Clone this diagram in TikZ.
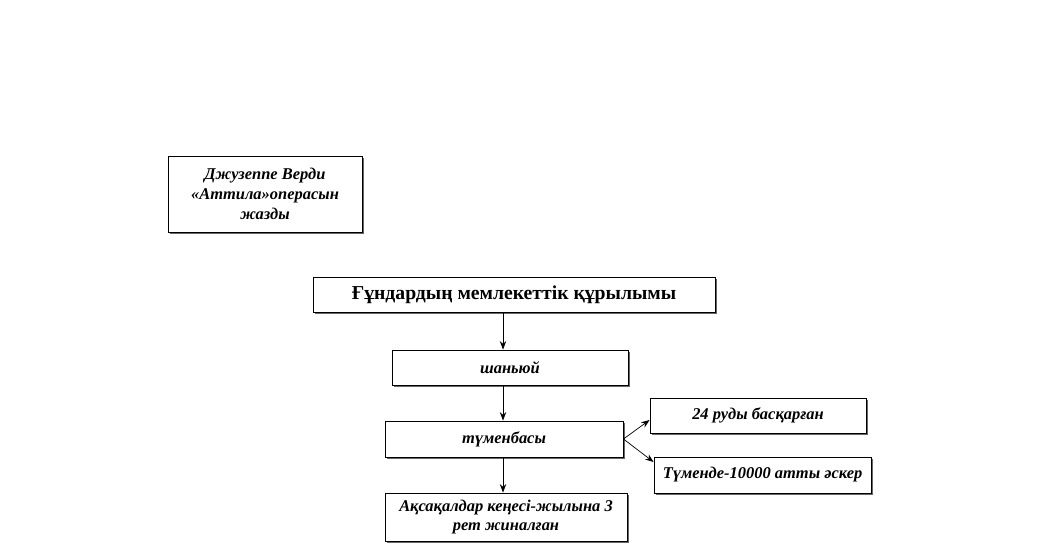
\documentclass[tikz,border=0pt]{standalone}
\usepackage{fontspec}
\setmainfont{Liberation Serif}
\usetikzlibrary{arrows.meta,shadows}

\tikzset{
  box/.style={draw=black, line width=0.6pt, fill=white, align=center,
    inner sep=1pt, drop shadow={shadow xshift=1.2pt, shadow yshift=-1.2pt, fill=black!60, opacity=1},
    font=\bfseries\itshape\fontsize{11.7}{14}\selectfont},
  titlebox/.style={box, font=\bfseries\fontsize{14}{17}\selectfont},
  arr/.style={-{Stealth[length=6pt,width=4.5pt]}, line width=0.5pt}
}

\begin{document}
\begin{tikzpicture}[x=0.025cm, y=-0.025cm]

\useasboundingbox (0,0) rectangle (1049,552);

% left note
\node[box, minimum width=4.85cm, minimum height=1.9cm] (verdi) at (265,194)
  {Джузеппе Верди\\«Аттила»операсын\\жазды};

% main column
\node[titlebox, minimum width=10.05cm, minimum height=0.875cm] (state) at (514,294.5)
  {Ғұндардың мемлекеттік құрылымы};
\node[box, minimum width=5.9cm, minimum height=0.875cm] (shanyu) at (510,367.5) {шаньюй};
\node[box, minimum width=5.95cm, minimum height=0.9cm] (tumen) at (504,439) {түменбасы};
\node[box, minimum width=6.05cm, minimum height=1.2cm] (council) at (506,517)
  {Ақсақалдар кеңесі-жылына 3\\рет жиналған};

% right side
\node[box, minimum width=5.4cm, minimum height=0.875cm] (clans) at (758,415.5) {24 руды басқарған};
\node[box, minimum width=5.425cm, minimum height=0.9cm] (army) at (762.5,475) {Түменде-10000 атты әскер};

% connectors
\draw[arr] (state.south -| 503,0) -- (shanyu.north -| 503,0);
\draw[arr] (shanyu.south -| 503,0) -- (tumen.north -| 503,0);
\draw[arr] (tumen.south -| 503,0) -- (council.north -| 503,0);
\draw[arr] (tumen.east) -- (clans.west |- 0,420);
\draw[arr] (tumen.east) -- (army.west |- 0,462);

\end{tikzpicture}
\end{document}
